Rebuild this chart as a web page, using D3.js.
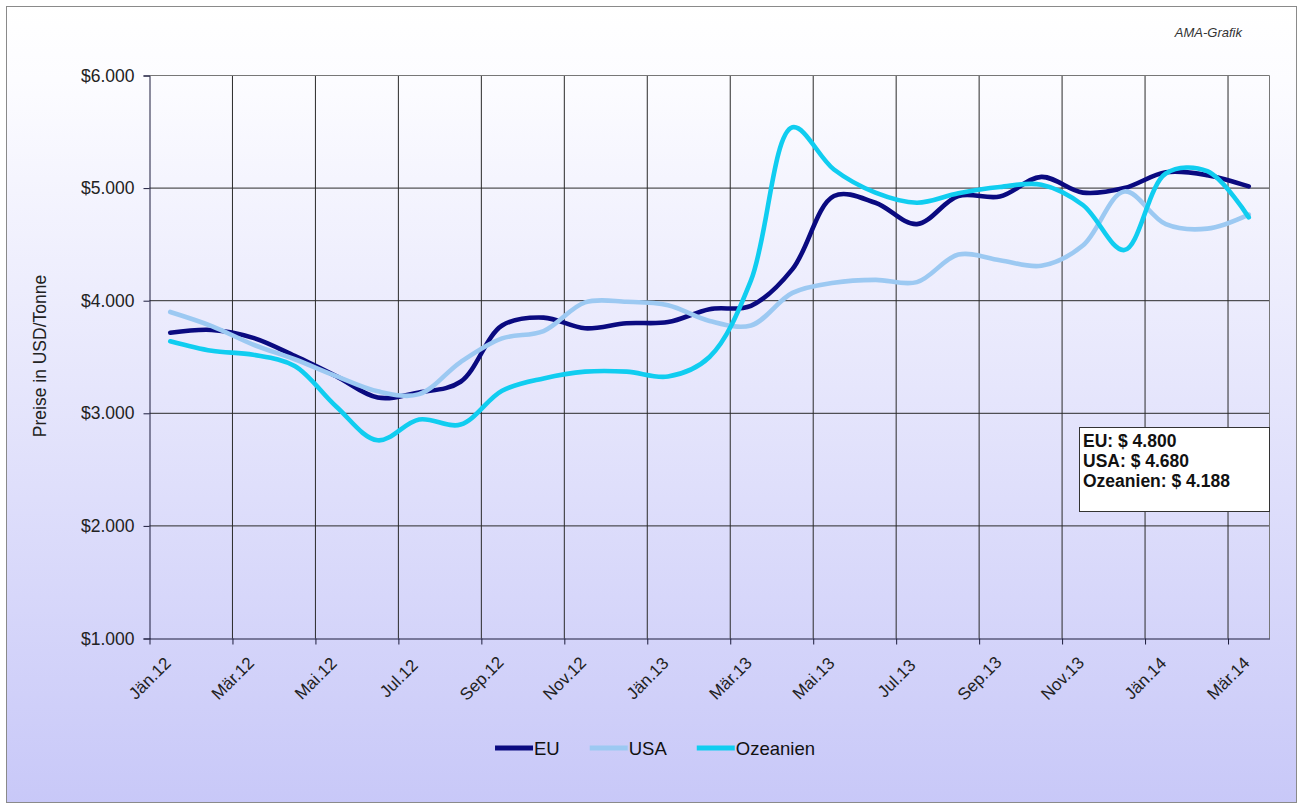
<!DOCTYPE html>
<html><head><meta charset="utf-8">
<script src="https://cdn.jsdelivr.net/npm/d3@7"></script>
<style>html,body{margin:0;padding:0;background:#fff;} svg{display:block;font-family:"Liberation Sans",Arial,sans-serif;}</style>
</head><body><svg id="c" width="1302" height="805"></svg>
<script>
const months = ["Jän.12","Feb.12","Mär.12","Apr.12","Mai.12","Jun.12","Jul.12","Aug.12","Sep.12","Okt.12","Nov.12","Dez.12","Jän.13","Feb.13","Mär.13","Apr.13","Mai.13","Jun.13","Jul.13","Aug.13","Sep.13","Okt.13","Nov.13","Dez.13","Jän.14","Feb.14","Mär.14"];
const euValues  = [3715,3740,3670,3510,3330,3140,3185,3280,3780,3850,3755,3800,3810,3925,3955,4280,4930,4870,4680,4930,4925,5100,4960,5000,5140,5115,5015];
const usaValues = [3900,3775,3610,3480,3330,3195,3170,3455,3665,3730,3985,3990,3960,3820,3780,4070,4160,4185,4165,4410,4360,4310,4490,4970,4680,4640,4765];
const ozValues  = [3640,3555,3520,3420,3060,2760,2945,2900,3200,3310,3370,3370,3327,3500,4180,5540,5165,4960,4870,4955,5010,5030,4850,4450,5130,5150,4740];
const seriesNames = ["EU","USA","Ozeanien"];
const seriesColors = ["#0a0a80","#9cc9f2","#10cdf0"];
const yTicks = [1000,2000,3000,4000,5000,6000];
const tickIdx = months.map((m,i)=>i).filter(i=>i%2===0);
const boxLines = ["EU: $ 4.800","USA: $ 4.680","Ozeanien: $ 4.188"];
const sourceNote = "AMA-Grafik";
const yTitle = "Preise in USD/Tonne";

const series = [euValues, usaValues, ozValues].map((v,k)=>({name:seriesNames[k], color:seriesColors[k], values:v}));

const svg = d3.select("#c");
const W = 1302, H = 805;
const L = 149.5, R = 1269.5, T = 75.5, B = 638.5;

const defs = svg.append("defs");
const g = defs.append("linearGradient").attr("id","bg").attr("gradientUnits","userSpaceOnUse")
  .attr("x1",0).attr("y1",0).attr("x2",0).attr("y2",H);
g.append("stop").attr("offset",0).attr("stop-color","#ffffff");
g.append("stop").attr("offset",0.1).attr("stop-color","#fcfcff");
g.append("stop").attr("offset",1).attr("stop-color","#c8c8f8");

svg.append("rect").attr("x",0).attr("y",0).attr("width",W).attr("height",H).attr("fill","#fff");
svg.append("rect").attr("x",6.5).attr("y",6.5).attr("width",1290).attr("height",796)
  .attr("fill","url(#bg)").attr("stroke","#8a8a8a").attr("stroke-width",1);

const x = d3.scaleLinear().domain([0, months.length]).range([L, R]);
const y = d3.scaleLinear().domain([1000, 6000]).range([B, T]);

const fmt = d3.formatLocale({decimal:",", thousands:".", grouping:[3], currency:["$",""]}).format("$,");

// grid
const grid = svg.append("g");
grid.selectAll(".hg").data(yTicks.filter(v=>v>1000 && v<6000)).enter().append("line")
  .attr("x1",L).attr("x2",R).attr("y1",d=>y(d)).attr("y2",d=>y(d))
  .attr("stroke","#2a2a2a").attr("stroke-width",1);
grid.selectAll(".vg").data(tickIdx.filter(i=>i>0)).enter().append("line")
  .attr("x1",d=>x(d)).attr("x2",d=>x(d)).attr("y1",T).attr("y2",B)
  .attr("stroke","#2a2a2a").attr("stroke-width",1);
// top and right frame
svg.append("path").attr("d",`M${L},${T}H${R}V${B}`).attr("fill","none").attr("stroke","#777").attr("stroke-width",1);

// y axis
const ya = svg.append("g").attr("transform",`translate(${L},0)`)
  .call(d3.axisLeft(y).tickValues(yTicks).tickFormat(fmt).tickSize(6).tickPadding(9));
ya.select(".domain").attr("stroke","#1c1c3c");
ya.selectAll(".tick line").attr("stroke","#1c1c3c");
ya.selectAll("text").attr("font-size","17.5px").attr("fill","#222").attr("font-family","Liberation Sans, Arial, sans-serif");

// x axis
const xa = svg.append("g").attr("transform",`translate(0,${B})`)
  .call(d3.axisBottom(x).tickValues(tickIdx).tickFormat(i=>months[i]).tickSize(6).tickSizeOuter(0));
xa.select(".domain").attr("stroke","#1c1c3c");
xa.selectAll(".tick line").attr("stroke","#1c1c3c");
xa.selectAll(".tick text").attr("font-size","17px").attr("fill","#222")
  .attr("font-family","Liberation Sans, Arial, sans-serif")
  .attr("text-anchor","middle").attr("dy",null).attr("y",null)
  .attr("dominant-baseline","central")
  .attr("transform","translate(0,40) rotate(-45)");

// y title
svg.append("text").attr("transform","translate(40,356) rotate(-90)")
  .attr("text-anchor","middle").attr("dominant-baseline","central")
  .attr("font-size","17.5px").attr("fill","#222").text(yTitle);

// source
svg.append("text").attr("x",1242).attr("y",37).attr("text-anchor","end")
  .attr("font-size","13px").attr("font-style","italic").attr("fill","#333").text(sourceNote);

// lines
const line = d3.line().x((d,i)=>x(i+0.5)).y(d=>y(d)).curve(d3.curveCatmullRom.alpha(0.5));
svg.append("g").selectAll("path").data(series).enter().append("path")
  .attr("d",d=>line(d.values)).attr("fill","none").attr("stroke",d=>d.color)
  .attr("stroke-width",4.6).attr("stroke-linejoin","round").attr("stroke-linecap","round");

// annotation box
const bx = svg.append("g");
bx.append("rect").attr("x",1079.5).attr("y",427.5).attr("width",190).attr("height",84)
  .attr("fill","#fff").attr("stroke","#333").attr("stroke-width",1);
bx.selectAll("text").data(boxLines).enter().append("text")
  .attr("x",1083).attr("y",(d,i)=>447+i*20).attr("font-size","17.5px").attr("font-weight","bold")
  .attr("fill","#111").text(d=>d);

// legend
const lg = svg.append("g");
const items = [];
series.forEach(s=>{
  const it = lg.append("g");
  it.append("line").attr("x1",0).attr("x2",38).attr("y1",0).attr("y2",0)
    .attr("stroke",s.color).attr("stroke-width",5);
  const t = it.append("text").attr("x",39).attr("y",0).attr("dominant-baseline","central")
    .attr("font-size","18.5px").attr("fill","#111").text(s.name);
  const w = 39 + t.node().getComputedTextLength();
  items.push({it, w});
});
let total = items.reduce((a,b)=>a+b.w,0) + 30*(items.length-1);
let pos = 655 - total/2;
items.forEach(o=>{ o.it.attr("transform",`translate(${pos},748)`); pos += o.w + 30; });
</script>
</body></html>
